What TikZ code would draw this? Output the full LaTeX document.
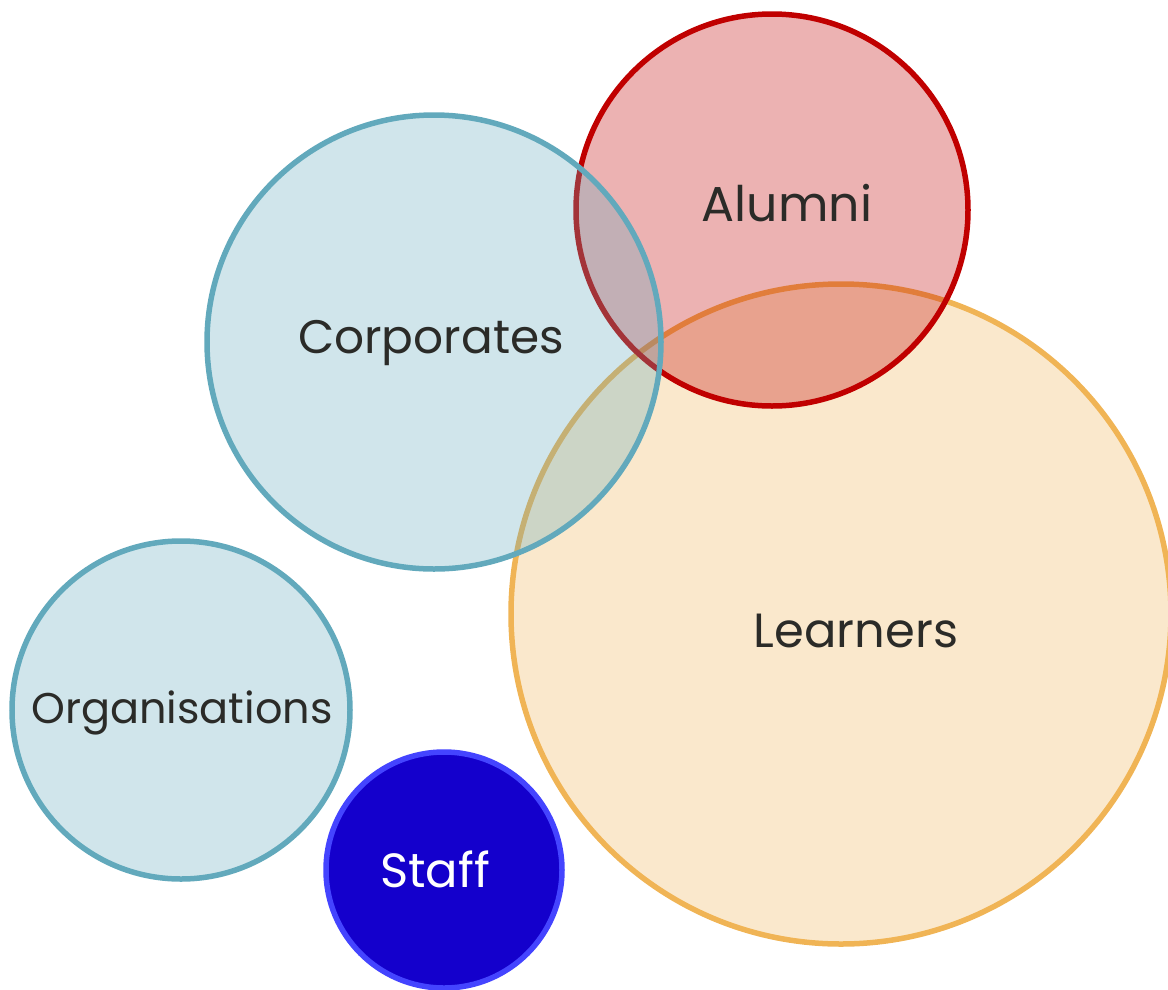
\documentclass[tikz,border=0pt]{standalone}
\usepackage{fontspec}
\setmainfont{Poppins}
\definecolor{txt}{HTML}{2B2B28}
\definecolor{blueS}{HTML}{62A9BC}
\definecolor{redS}{HTML}{C00000}
\definecolor{orS}{HTML}{F0B455}
\definecolor{staffF}{HTML}{1400CC}
\definecolor{staffS}{HTML}{4444FF}
\tikzset{
  bubble/.style={circle, line width=5.5pt, inner sep=0pt, fill opacity=0.3, draw opacity=1},
  lbl/.style={text=txt, anchor=base, inner sep=0pt, text opacity=1},
  fs/.style={font=\fontsize{#1}{#1}\selectfont}
}
\begin{document}
\begin{tikzpicture}[x=1pt,y=-1pt]
\useasboundingbox (0,0) rectangle (1168,989);
\node[bubble, draw=orS, fill=orS, minimum size=660pt] (learners) at (841,614) {};
\node[bubble, draw=redS, fill=redS, minimum size=392pt] (alumni) at (772,210) {};
\node[bubble, draw=blueS, fill=blueS, minimum size=454pt] (corp) at (434,342) {};
\node[bubble, draw=blueS, fill=blueS, minimum size=338pt] (org) at (181,710) {};
\node[circle, line width=5.5pt, draw=staffS, fill=staffF, minimum size=236pt] (staff) at (444,870) {};
\node[lbl, fs=49] (tAlumni) at (787,221) {Alumni};
\node[lbl, fs=47] (tCorp) at (431,353) {Corporates};
\node[lbl, fs=48] (tLearn) at (856,647) {Learners};
\node[lbl, fs=43] (tOrg) at (182,723) {Organisations};
\node[lbl, fs=48, text=white] (tStaff) at (435,887) {Staff};
\end{tikzpicture}
\end{document}
